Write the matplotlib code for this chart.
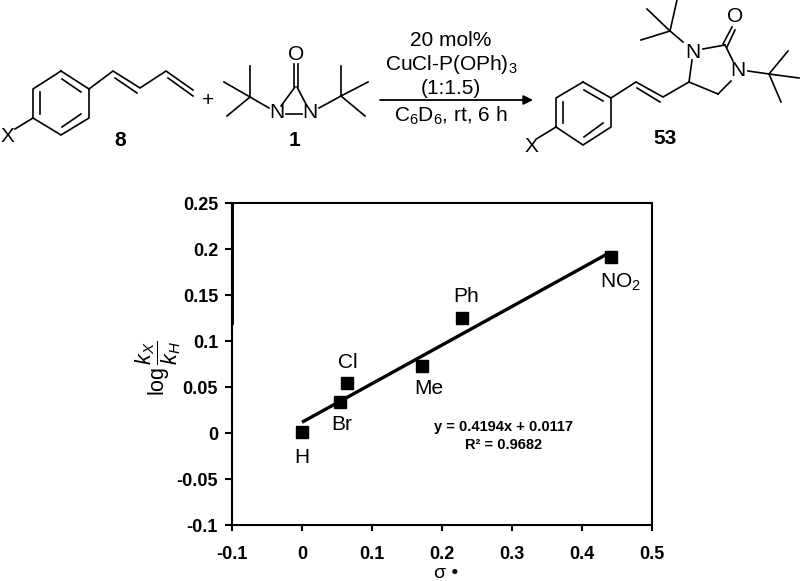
import matplotlib
matplotlib.use("Agg")
import matplotlib.pyplot as plt

plt.rcParams['font.family'] = ['Liberation Sans', 'DejaVu Sans']
plt.rcParams['mathtext.fontset'] = 'custom'
plt.rcParams['mathtext.rm'] = 'Liberation Sans'
plt.rcParams['mathtext.it'] = 'Liberation Sans:italic'
plt.rcParams['mathtext.bf'] = 'Liberation Sans:bold'

# data
substituents = ['H', 'Br', 'Cl', 'Me', 'Ph', 'NO$_2$']
sigma = [0.0, 0.054, 0.064, 0.172, 0.229, 0.441]
log_k = [0.001, 0.034, 0.054, 0.073, 0.125, 0.191]
fit_x = [0.0, 0.441]
fit_y = [0.0117, 0.1967]
x_ticks = [-0.1, 0, 0.1, 0.2, 0.3, 0.4, 0.5]
y_ticks = [-0.1, -0.05, 0, 0.05, 0.1, 0.15, 0.2, 0.25]
label_offsets = [(0, -25), (2, -23), (1, 21), (6, -23), (4, 22), (10, -25)]

W, H = 800, 581
fig = plt.figure(figsize=(W / 100, H / 100), dpi=100)

# plot panel
ax = fig.add_axes([232 / W, 1 - 525 / H, 420 / W, 322 / H])
ax.plot(fit_x, fit_y, color='black', lw=2.4, solid_capstyle='butt')
ax.plot(sigma, log_k, ls='none', marker='s', ms=8.5, color='black', clip_on=False)
for name, sx, sy, off in zip(substituents, sigma, log_k, label_offsets):
    ax.annotate(name, (sx, sy), xytext=off, textcoords='offset pixels',
                ha='center', va='center', fontsize=15)
ax.set_xlim(-0.1, 0.5)
ax.set_ylim(-0.1, 0.25)
ax.set_xticks(x_ticks, [f'{t:g}' for t in x_ticks], fontweight='bold', fontsize=13)
ax.set_yticks(y_ticks, [f'{t:g}' for t in y_ticks], fontweight='bold', fontsize=13)
ax.tick_params(axis='x', direction='out', length=4, width=1.5, pad=11)
ax.tick_params(axis='y', direction='out', length=5, width=1.5, pad=5)
for spine in ax.spines.values():
    spine.set_linewidth(1.5)
ax.plot([-0.1, -0.1], [0.12, 0.25], color='black', lw=2.1, clip_on=False)
ax.text(0.2875, -0.0035, 'y = 0.4194x + 0.0117\nR² = 0.9682', ha='center', va='center',
        fontsize=10.5, fontweight='bold', linespacing=1.35)
fig.text(446 / W, 1 - 574 / H, 'σ •', ha='center', va='center', fontsize=14)
fig.text(158 / W, 1 - 368 / H, r'log$\,\dfrac{k_X}{k_H}$', rotation=90, ha='center', va='center',
         fontsize=15.5)

# reaction scheme, in pixels of the picture
s = fig.add_axes([0, 0, 1, 1], facecolor='none')
s.set_xlim(0, W)
s.set_ylim(H, 0)
s.axis('off')

bonds = [
    # diene 8
    [(61, 71), (89, 89), (89, 118), (61, 135), (33, 118), (33, 89), (61, 71)],
    [(62, 79), (81, 92)], [(81, 114), (62, 127)], [(40, 114), (40, 92)],
    [(33, 118), (15, 129)],
    [(89, 89), (113, 71), (140, 88), (166, 71), (193, 90)],
    [(115, 78), (137, 93)], [(168, 78), (193, 96)],
    # diaziridinone 1
    [(294, 64), (294, 87)], [(298, 64), (298, 87)],
    [(295, 87), (281, 106)], [(297, 87), (307, 106)], [(286, 114), (302, 114)],
    [(269, 108), (250, 97)], [(250, 97), (250, 66)], [(250, 97), (224, 82)], [(250, 97), (227, 116)],
    [(319, 108), (341, 96)], [(341, 96), (341, 66)], [(341, 96), (368, 82)], [(341, 96), (365, 116)],
    # product 53
    [(583, 82), (611, 98), (611, 127), (583, 145), (556, 127), (556, 98), (583, 82)],
    [(584, 90), (603, 101)], [(603, 123), (584, 137)], [(563, 123), (563, 102)],
    [(556, 127), (538, 138)],
    [(611, 98), (636, 82), (663, 97), (689, 82)],
    [(637, 88), (660, 102)],
    [(689, 82), (692, 60)], [(703, 49), (725, 45)],
    [(723, 44), (732, 27)], [(727, 47), (735, 30)],
    [(725, 45), (733, 61)], [(731, 81), (718, 94)], [(718, 94), (689, 82)],
    [(683, 42), (670, 31)], [(670, 31), (647, 9)], [(670, 31), (641, 40)], [(670, 31), (677, 0)],
    [(748, 71), (769, 74)], [(769, 74), (799, 78)], [(769, 74), (781, 102)], [(769, 74), (788, 51)],
]
for b in bonds:
    s.plot([p[0] for p in b], [p[1] for p in b], color='black', lw=1.2, solid_joinstyle='miter')

s.annotate('', xy=(533, 100), xytext=(380, 100),
           arrowprops=dict(arrowstyle='-|>', color='black', lw=1.3, shrinkA=0, shrinkB=0, mutation_scale=14))

atoms = [('X', 7, 137), ('O', 296, 54), ('N', 277, 113), ('N', 310, 113), ('+', 208, 100),
         ('X', 531, 146), ('N', 693, 52), ('N', 738, 71), ('O', 735, 16)]
for name, px, py in atoms:
    s.text(px, py, name, ha='center', va='center', fontsize=15)
for name, px, py in [('8', 120, 140), ('1', 295, 140), ('53', 665, 138)]:
    s.text(px, py, name, ha='center', va='center', fontsize=15, fontweight='bold')
for line, py in [('20 mol%', 40), ('CuCl-P(OPh)$_3$', 65), ('(1:1.5)', 88), ('C$_6$D$_6$, rt, 6 h', 116)]:
    s.text(451, py, line, ha='center', va='center', fontsize=15)

fig.savefig('out.png', dpi=100)
